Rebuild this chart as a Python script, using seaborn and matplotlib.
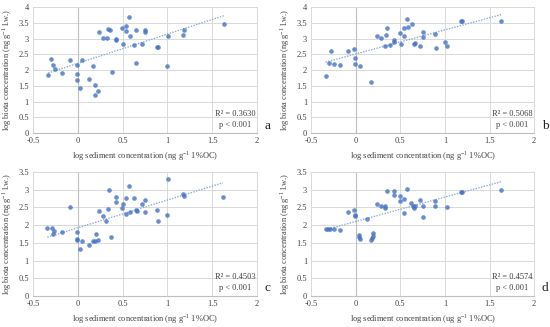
import numpy as np
import pandas as pd
import matplotlib
matplotlib.use("Agg")
import matplotlib.pyplot as plt
import seaborn as sns

# panel a
xa = [-0.33, -0.30, -0.28, -0.25, -0.18, -0.09, -0.01, -0.01, -0.01, 0.03, 0.05, 0.12, 0.17,
      0.19, 0.19, 0.23, 0.24, 0.28, 0.33, 0.34, 0.36, 0.38, 0.43, 0.43, 0.49, 0.51, 0.54,
      0.54, 0.57, 0.58, 0.63, 0.65, 0.65, 0.72, 0.75, 0.75, 0.89, 0.90, 1.00, 1.01, 1.18,
      1.19, 1.63]
ya = [1.85, 2.34, 2.17, 2.03, 1.90, 2.31, 2.16, 1.87, 1.69, 1.43, 2.31, 1.73, 2.12,
      1.53, 1.22, 1.33, 3.22, 3.01, 3.03, 3.31, 3.27, 1.95, 3.00, 2.97, 3.34, 2.84, 3.41,
      3.24, 3.69, 3.09, 2.81, 2.23, 3.26, 2.83, 3.28, 3.20, 2.74, 2.74, 2.14, 3.10, 3.11,
      3.27, 3.47]

# panel b
xb = [-0.34, -0.30, -0.28, -0.25, -0.18, -0.09, -0.02, -0.01, -0.01, 0.05, 0.17, 0.24,
      0.28, 0.34, 0.33, 0.35, 0.38, 0.43, 0.43, 0.49, 0.51, 0.54, 0.54, 0.57, 0.58, 0.63,
      0.65, 0.66, 0.72, 0.75, 0.75, 0.89, 0.90, 1.00, 1.02, 1.18, 1.19, 1.63]
yb = [1.81, 2.24, 2.61, 2.21, 2.16, 2.60, 2.67, 2.37, 2.19, 2.12, 1.62, 3.09,
      3.02, 3.12, 2.77, 3.33, 2.79, 2.95, 2.88, 3.17, 2.83, 3.33, 3.09, 3.63, 3.37, 3.47,
      2.84, 2.87, 2.76, 3.21, 3.06, 3.15, 2.70, 2.89, 2.77, 3.56, 3.56, 3.55]

# panel c
xc = [-0.34, -0.29, -0.28, -0.26, -0.18, -0.09, -0.01, -0.01, -0.01, 0.03, 0.05, 0.12,
      0.17, 0.19, 0.20, 0.23, 0.24, 0.28, 0.32, 0.34, 0.35, 0.37, 0.43, 0.43, 0.49, 0.51,
      0.54, 0.54, 0.57, 0.58, 0.63, 0.65, 0.66, 0.72, 0.75, 0.75, 0.88, 0.90, 1.00, 1.01,
      1.18, 1.19, 1.62]
yc = [1.92, 1.93, 1.75, 1.83, 1.80, 2.51, 1.81, 1.62, 1.57, 1.32, 1.56, 1.44,
      1.56, 1.56, 1.74, 1.58, 2.39, 2.26, 2.12, 2.45, 2.99, 1.66, 2.78, 2.65, 2.47, 2.59,
      2.76, 2.32, 3.11, 2.36, 2.77, 2.43, 2.40, 2.61, 2.72, 2.37, 2.43, 2.13, 2.28, 3.31,
      2.89, 2.82, 2.80]

# panel d
xd = [-0.34, -0.31, -0.29, -0.25, -0.18, -0.09, -0.02, -0.01, -0.01, 0.03, 0.04, 0.05,
      0.12, 0.17, 0.18, 0.19, 0.19, 0.24, 0.28, 0.33, 0.33, 0.35, 0.43, 0.43, 0.49, 0.50,
      0.54, 0.54, 0.57, 0.62, 0.64, 0.65, 0.66, 0.72, 0.75, 0.75, 0.89, 0.89, 1.02, 1.18,
      1.19, 1.63]
yd = [1.90, 1.89, 1.88, 1.90, 1.87, 2.36, 2.44, 2.29, 2.26, 1.73, 1.67, 1.61,
      2.18, 1.59, 1.65, 1.78, 1.69, 2.59, 2.53, 2.48, 2.54, 2.97, 2.95, 2.86, 2.67, 2.83,
      2.73, 2.35, 3.01, 2.63, 2.54, 2.47, 2.54, 2.71, 2.53, 2.22, 2.68, 2.53, 2.51, 2.94,
      2.94, 3.00]

r2_labels = ["R\u00b2 = 0.3630", "R\u00b2 = 0.5068", "R\u00b2 = 0.4503", "R\u00b2 = 0.4574"]
p_label = "p < 0.001"
panel_letters = ["a", "b", "c", "d"]
x_labels = ["log sediment concentration (ng g$^{-1}$ 1%OC)"] * 3 + \
           ["log sediment concentration (ug g$^{-1}$ 1%OC)"]
y_label = "log biota concentration (ng g$^{-1}$ l.w.)"
y_tops = [4, 4, 3.5, 3.5]

sns.set_style("white")
plt.rcParams['font.family'] = ['Liberation Serif', 'DejaVu Serif']
plt.rcParams['mathtext.fontset'] = 'custom'
plt.rcParams['mathtext.rm'] = 'Liberation Serif'

fig = plt.figure(figsize=(5.5, 3.27), dpi=100)
boxes = [[0.060, 0.593, 0.407, 0.385],
         [0.566, 0.593, 0.405, 0.385],
         [0.060, 0.095, 0.407, 0.379],
         [0.566, 0.095, 0.405, 0.379]]

data = [(xa, ya), (xb, yb), (xc, yc), (xd, yd)]
dot_color = "#4472C4"
line_color = "#8FAADC"
grid_color = "#D9D9D9"

for i, (xs, ys) in enumerate(data):
    ax = fig.add_axes(boxes[i])
    df = pd.DataFrame({"x": xs, "y": ys})
    sns.regplot(x="x", y="y", data=df, ax=ax, ci=None,
                scatter_kws=dict(s=11, color=dot_color, linewidths=0, zorder=4),
                line_kws=dict(color=line_color, lw=1.0, ls=(0, (1, 1)), zorder=3))
    top = y_tops[i]
    ax.set_xlim(-0.5, 2)
    ax.set_ylim(0, top)
    xt = [-0.5, 0, 0.5, 1, 1.5, 2]
    yt = list(np.arange(0, top + 0.01, 0.5))
    ax.set_xticks(xt)
    ax.set_xticklabels(["-0.5", "0", "0.5", "1", "1.5", "2"])
    ax.set_yticks(yt)
    ax.set_yticklabels([f"{v:g}" for v in yt])
    ax.tick_params(length=0, labelsize=6, pad=3, colors="#404040")
    ax.grid(True, color=grid_color, lw=0.7)
    ax.set_axisbelow(True)
    for side in ["top", "right", "left"]:
        ax.spines[side].set_color(grid_color)
        ax.spines[side].set_linewidth(0.7)
    ax.spines["bottom"].set_color("#BFBFBF")
    ax.spines["bottom"].set_linewidth(0.8)
    ax.axvline(0, color="#BFBFBF", lw=0.8, zorder=1)
    ax.set_xlabel(x_labels[i], fontsize=6, color="#404040", labelpad=3)
    ax.set_ylabel(y_label, fontsize=6, color="#404040", labelpad=3)
    ax.text(0.995, 0.155, r2_labels[i], transform=ax.transAxes, ha="right", va="center",
            fontsize=6, color="#404040")
    ax.text(0.975, 0.065, p_label, transform=ax.transAxes, ha="right", va="center",
            fontsize=6, color="#404040")
    ax.text(1.035, 0.06, panel_letters[i], transform=ax.transAxes, ha="left", va="center",
            fontsize=9.5, color="#202020")

fig.savefig("out.png", dpi=100)
